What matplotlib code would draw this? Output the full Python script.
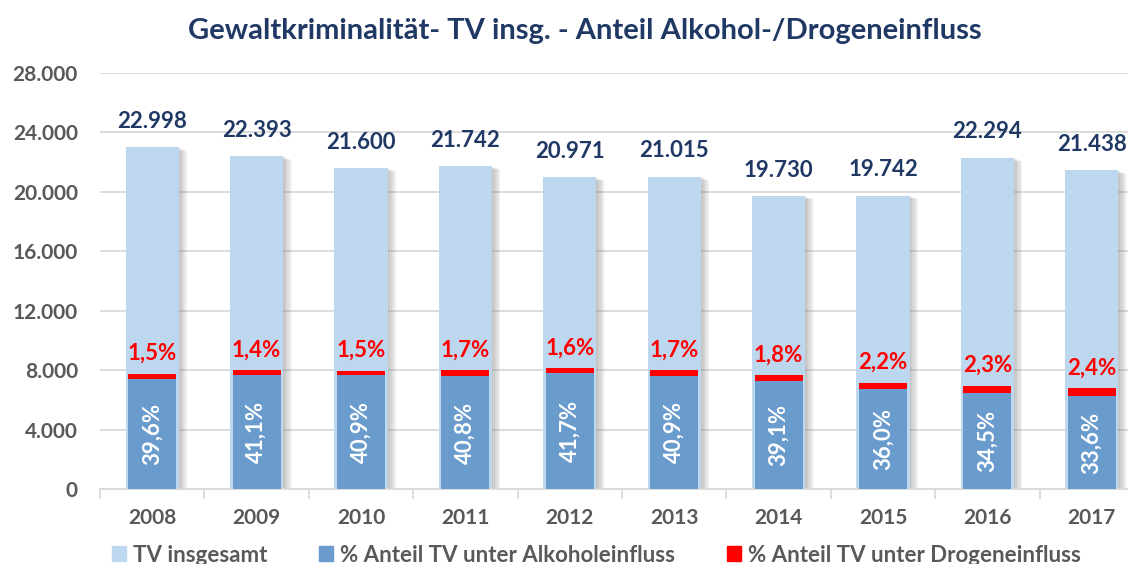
import matplotlib.pyplot as plt
import matplotlib.patheffects as pe
from matplotlib.patches import Patch
from matplotlib.ticker import FixedLocator, FuncFormatter

plt.rcParams['font.family'] = ['Lato', 'DejaVu Sans']
plt.rcParams['font.weight'] = 'bold'

years = ['2008', '2009', '2010', '2011', '2012', '2013', '2014', '2015', '2016', '2017']
tv_total = [22998, 22393, 21600, 21742, 20971, 21015, 19730, 19742, 22294, 21438]
# heights
tv_alcohol = [7410, 7680, 7650, 7610, 7790, 7630, 7290, 6730, 6440, 6260]
tv_drugs = [345, 313, 324, 370, 335, 357, 355, 434, 513, 514]
pct_alcohol = ['39,6%', '41,1%', '40,9%', '40,8%', '41,7%', '40,9%', '39,1%', '36,0%', '34,5%', '33,6%']
pct_drugs = ['1,5%', '1,4%', '1,5%', '1,7%', '1,6%', '1,7%', '1,8%', '2,2%', '2,3%', '2,4%']

LIGHT = '#BDD7EE'
DARK = '#6A9BCD'
RED = '#FF0000'
NAVY = '#1F3864'
GREY = '#595959'
GRID = '#D9D9D9'

def de_thousands(v, pos=None):
    return f'{int(v):,}'.replace(',', '.')

fig = plt.figure(figsize=(11.28, 5.64), dpi=100)
ax = fig.add_axes([100 / 1128, 75 / 564, 1044 / 1128, 416 / 564])

x = list(range(len(years)))
# soft drop shadow on the right side of the big bars
shadow = [pe.SimplePatchShadow(offset=(k, -0.4 * k), shadow_rgbFace='#7F7F7F', alpha=0.09)
          for k in range(6, 0, -1)] + [pe.Normal()]

ax.bar(x, tv_total, width=0.51, color=LIGHT, zorder=2, path_effects=shadow)
ax.bar(x, tv_alcohol, width=0.46, color=DARK, zorder=3)
ax.bar(x, tv_drugs, width=0.46, bottom=tv_alcohol, color=RED, zorder=3)

for i in x:
    ax.annotate(de_thousands(tv_total[i]), (i, tv_total[i]), xytext=(0, 11),
                textcoords='offset points', ha='center', va='bottom',
                color=NAVY, fontsize=16, fontweight='bold')
    ax.annotate(pct_drugs[i], (i, tv_alcohol[i] + tv_drugs[i]), xytext=(0, 7),
                textcoords='offset points', ha='center', va='bottom',
                color=RED, fontsize=16, fontweight='bold')
    ax.text(i, tv_alcohol[i] / 2, pct_alcohol[i], rotation=90, ha='center', va='center',
            color='white', fontsize=16, fontweight='bold', zorder=4)

ax.set_ylim(0, 28000)
ax.set_xlim(-0.5, 9.5)
ax.set_yticks(range(0, 28001, 4000))
ax.yaxis.set_major_formatter(FuncFormatter(de_thousands))
ax.grid(axis='y', color=GRID, linewidth=1.3, zorder=0)
ax.set_axisbelow(True)

ax.set_xticks(x)
ax.set_xticklabels(years)
ax.xaxis.set_minor_locator(FixedLocator([i - 0.5 for i in range(len(years) + 1)]))
ax.tick_params(axis='x', which='major', length=0, pad=14, labelsize=15, labelcolor=GREY)
ax.tick_params(axis='x', which='minor', length=7, width=1.3, color=GRID)
ax.tick_params(axis='y', length=0, pad=16, labelsize=15, labelcolor=GREY)
for lab in ax.get_xticklabels() + ax.get_yticklabels():
    lab.set_fontweight('bold')

for side in ['top', 'right', 'left']:
    ax.spines[side].set_visible(False)
ax.spines['bottom'].set_color(GRID)
ax.spines['bottom'].set_linewidth(1.3)

fig.text(585 / 1128, 1 - 31 / 564, 'Gewaltkriminalität- TV insg. - Anteil Alkohol-/Drogeneinfluss',
         ha='center', va='center', color=NAVY, fontsize=21, fontweight='bold')

handles = [Patch(color=LIGHT), Patch(color=DARK), Patch(color=RED)]
labels = ['TV insgesamt', '% Anteil TV unter Alkoholeinfluss', '% Anteil TV unter Drogeneinfluss']
leg = fig.legend(handles, labels, loc='center left', bbox_to_anchor=(112 / 1128, 1 - 555 / 564),
                 ncol=3, frameon=False, fontsize=16, handlelength=0.63, handleheight=0.63,
                 handletextpad=0.3, columnspacing=2.35, borderaxespad=0, borderpad=0)
for t in leg.get_texts():
    t.set_color(GREY)
    t.set_fontweight('bold')

fig.savefig('out.png', dpi=100)
